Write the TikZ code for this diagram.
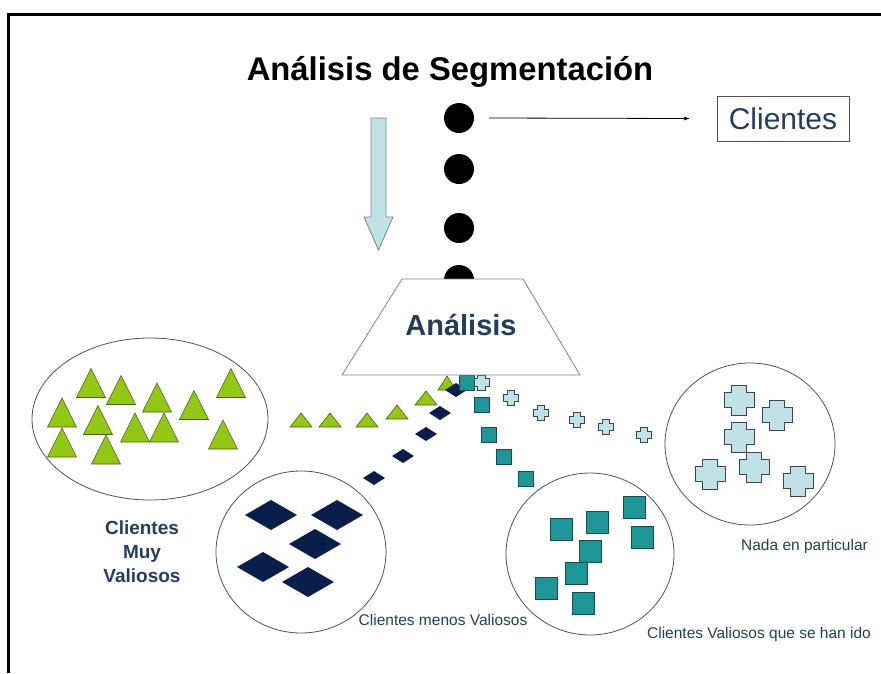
\documentclass[tikz,border=0pt]{standalone}
\usepackage{fontspec}
\setmainfont{Liberation Sans}
\usepackage{xcolor}
\usepackage{tikz}
\usetikzlibrary{shapes.geometric}

\definecolor{leafgreen}{RGB}{146,200,20}
\definecolor{leafedge}{RGB}{70,95,20}
\definecolor{navyblue}{RGB}{10,30,75}
\definecolor{tealgreen}{RGB}{30,150,150}
\definecolor{tealedge}{RGB}{25,75,80}
\definecolor{paleblue}{RGB}{192,226,230}
\definecolor{crossedge}{RGB}{60,70,80}
\definecolor{slate}{RGB}{35,62,92}
\definecolor{ringgray}{RGB}{80,80,80}

% shape marks: centre x, centre y, width (, height)
\newcommand{\greentri}[4]{\path[trimark] (#1,#2) ++(0,{-#4/2}) -- ++({#3/2},{#4}) -- ++({-#3},0) -- cycle;}
\newcommand{\navydiam}[4]{\path[diamark] ({#1-#3/2},#2) -- ++({#3/2},{-#4/2}) -- ++({#3/2},{#4/2}) -- ++({-#3/2},{#4/2}) -- cycle;}
\newcommand{\tealsq}[3]{\path[sqmark] ({#1-#3/2},{#2-#3/2}) rectangle ++(#3,#3);}
\newcommand{\bluecross}[3]{\path[crossmark] (#1,#2) ++({-#3/4},{-#3/2}) -- ++({#3/2},0) -- ++(0,{#3/4}) -- ++({#3/4},0) -- ++(0,{#3/2}) -- ++({-#3/4},0) -- ++(0,{#3/4}) -- ++({-#3/2},0) -- ++(0,{-#3/4}) -- ++({-#3/4},0) -- ++(0,{-#3/2}) -- ++({#3/4},0) -- cycle;}

\begin{document}
\begin{tikzpicture}[x=1pt, y=-1pt,
	trimark/.style={fill=leafgreen, draw=leafedge, line width=0.6},
	diamark/.style={fill=navyblue},
	sqmark/.style={fill=tealgreen, draw=tealedge, line width=0.6},
	crossmark/.style={fill=paleblue, draw=crossedge, line width=0.8},
	ring/.style={draw=ringgray, line width=0.8},
	blackdot/.style={circle, fill=black, minimum size=30, inner sep=0pt},
	grouptext/.style={text=slate, font=\fontsize{15.5}{18}\selectfont}]
		\useasboundingbox (0,0) rectangle (881,673);
		% Frame
		\draw[line width=3] (8.5,673) -- (8.5,14) -- (881,14);
		% Picture nodes
		%% Title
		\node[anchor=base, font=\fontsize{32.8}{38}\selectfont\bfseries] (title) at (450,80) {Análisis de Segmentación};
		%% Dots
		\node[blackdot] (dot1) at (459,118) {};
		\node[blackdot] (dot2) at (459,169) {};
		\node[blackdot] (dot3) at (459,228) {};
		\node[blackdot] (dot4) at (459,280) {};
		%% Clients box
		\node[draw=ringgray, line width=0.8, minimum width=132, minimum height=45, text=slate, font=\fontsize{30}{34}\selectfont] (clients) at (783,118.5) {Clientes};
		% Picture arcs
		\draw[-latex, line width=0.8] ([xshift=15pt]dot1.east) -- ([xshift=-27pt]clients.west);
		%% Down arrow
		\filldraw[fill=paleblue, draw=gray, line width=0.8] (371,118) -- (386,118) -- (386,217) -- (393,217) -- (378.5,250) -- (364,217) -- (371,217) -- cycle;
		% Groups
		%% Rings
		\draw[ring] (150,419) ellipse [x radius=118, y radius=81];
		\draw[ring] (301,552) ellipse [x radius=85, y radius=81];
		\draw[ring] (590,554) ellipse [x radius=84, y radius=81];
		\draw[ring] (750,444) ellipse [x radius=85, y radius=81];
		%% Triangles
		\greentri{91}{383}{29}{29}
		\greentri{121}{390}{29}{29}
		\greentri{157}{397.5}{29}{29}
		\greentri{194}{405}{29}{29}
		\greentri{231}{383}{29}{29}
		\greentri{62}{412.5}{29}{29}
		\greentri{98}{420}{29}{29}
		\greentri{135}{427.5}{29}{29}
		\greentri{164}{427.5}{29}{29}
		\greentri{223}{434.5}{29}{29}
		\greentri{62}{442.5}{29}{29}
		\greentri{106}{449.5}{29}{29}
		\greentri{301}{420}{22}{14}
		\greentri{330}{420}{22}{14}
		\greentri{367}{420}{22}{14}
		\greentri{397}{412}{22}{14}
		\greentri{426}{398}{22}{14}
		\greentri{447}{383}{18}{14}
		%% Diamonds
		\navydiam{456}{390}{22}{14}
		\navydiam{440}{413}{22}{14}
		\navydiam{426}{434}{22}{14}
		\navydiam{403}{456}{22}{14}
		\navydiam{374}{478}{22}{14}
		\navydiam{271}{515}{52}{30}
		\navydiam{337}{515}{52}{30}
		\navydiam{315}{544}{52}{30}
		\navydiam{263}{567}{52}{30}
		\navydiam{308}{582}{52}{30}
		%% Squares
		\tealsq{467}{382.5}{15}
		\tealsq{482}{405}{15}
		\tealsq{489}{435}{15}
		\tealsq{504}{457}{15}
		\tealsq{526}{479}{15}
		\tealsq{561}{529}{22}
		\tealsq{597}{522}{22}
		\tealsq{634}{507}{22}
		\tealsq{642}{537}{22}
		\tealsq{590}{551}{22}
		\tealsq{576}{573}{22}
		\tealsq{546}{588}{22}
		\tealsq{583}{603}{22}
		%% Crosses
		\bluecross{481.5}{382.5}{15}
		\bluecross{511}{398}{15}
		\bluecross{541}{413}{15}
		\bluecross{577}{420}{15}
		\bluecross{606}{427}{15}
		\bluecross{644}{435}{15}
		\bluecross{739}{400}{30}
		\bluecross{777}{415}{30}
		\bluecross{739}{437}{30}
		\bluecross{754}{467}{30}
		\bluecross{710}{474}{30}
		\bluecross{798}{481}{30}
		%% Analysis funnel
		\filldraw[fill=white, draw=gray, line width=0.8] (402,279) -- (523,279) -- (580,375) -- (342,375) -- cycle;
		\node[text=slate, font=\fontsize{29}{34}\selectfont\bfseries] (analysis) at (461,325) {Análisis};
		%% Group labels
		\node[text=slate, align=center, font=\fontsize{19}{24}\selectfont\bfseries] (verygood) at (142,552) {Clientes\\Muy\\Valiosos};
		\node[grouptext] (lessgood) at (443,620) {Clientes menos Valiosos};
		\node[grouptext] (nothing) at (804.5,546) {Nada en particular};
		\node[grouptext] (gone) at (759,634) {Clientes Valiosos que se han ido};
	\end{tikzpicture}
\end{document}
